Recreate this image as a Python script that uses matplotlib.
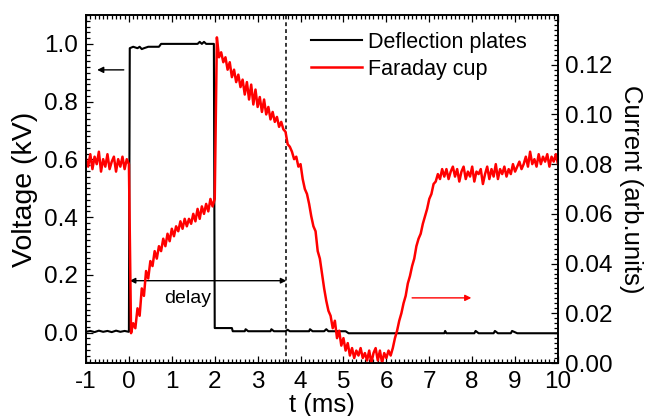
import numpy as np
import matplotlib
matplotlib.use("Agg")
import matplotlib.pyplot as plt
from matplotlib.ticker import MultipleLocator, AutoMinorLocator, FormatStrFormatter

plt.rcParams['font.family'] = ['Liberation Sans', 'DejaVu Sans']
plt.rcParams['axes.unicode_minus'] = False

# deflection plates voltage (kV), corner points of the trace
t_plates = [-1.0, -0.9, -0.8, -0.7, -0.6, -0.5, -0.4, -0.3, -0.2, -0.1, 0.0,
            0.02, 0.1, 0.2, 0.25, 0.3, 0.35, 0.45, 0.7, 0.75, 1.6, 1.65, 1.7,
            1.75, 1.8, 1.98, 2.0, 2.4, 2.42, 2.7, 2.72, 2.78, 3.3, 3.32, 3.38,
            3.65, 3.7, 3.75, 4.2, 4.22, 4.28, 4.55, 4.6, 4.65, 5.05, 5.12,
            7.35, 7.37, 7.4, 8.05, 8.08, 8.15, 8.5, 8.53, 8.6, 8.9, 8.93, 9.05,
            10.0]
v_plates = [0.003, 0.006, 0.002, 0.007, 0.003, 0.006, 0.002, 0.007, 0.003,
            0.006, 0.003,
            0.985, 0.99, 0.985, 0.99, 0.982, 0.985, 0.99, 0.99, 1.0, 1.0, 1.007,
            1.0, 1.007, 1.0, 1.0, 0.016, 0.016, 0.005, 0.005, 0.012, 0.005,
            0.005, 0.012, 0.005, 0.005, 0.01, 0.005, 0.005, 0.012, 0.005,
            0.005, 0.012, 0.005, 0.005, -0.002, -0.002, 0.006, -0.002, -0.002,
            0.006, -0.002, -0.002, 0.006, -0.002, -0.002, 0.006, -0.002, -0.002]

# faraday cup current (arb. units), sampled every 0.05 ms from -1 to 10
t_cup = np.round(np.arange(-1.0, 10.001, 0.05), 2)
i_cup = [
    0.082, 0.079, 0.084, 0.078, 0.083, 0.080, 0.085, 0.077, 0.082, 0.079,
    0.084, 0.078, 0.081, 0.083, 0.077, 0.082, 0.079, 0.083, 0.078, 0.082,
    0.080,
    0.012, 0.016, 0.014, 0.022, 0.019, 0.030, 0.027, 0.037, 0.034, 0.041,
    0.039, 0.045, 0.042, 0.047, 0.045, 0.050, 0.047, 0.052, 0.049, 0.054,
    0.051, 0.055, 0.053, 0.057, 0.054, 0.058, 0.055, 0.058, 0.056, 0.060,
    0.057, 0.062, 0.058, 0.063, 0.060, 0.064, 0.061, 0.066, 0.063,
    0.066, 0.131, 0.123, 0.125, 0.121, 0.123, 0.118, 0.121, 0.115, 0.118,
    0.113, 0.116, 0.111, 0.114, 0.108, 0.113, 0.106, 0.112, 0.104, 0.110,
    0.103, 0.107, 0.101, 0.106, 0.100, 0.103, 0.098, 0.101, 0.097, 0.099,
    0.095, 0.097, 0.094, 0.093, 0.088, 0.087, 0.085, 0.082, 0.083, 0.079,
    0.080, 0.074, 0.070, 0.068, 0.064, 0.059, 0.055, 0.053, 0.045, 0.042,
    0.036, 0.030, 0.025, 0.021, 0.019, 0.014, 0.017, 0.010, 0.013, 0.007,
    0.010, 0.005, 0.008, 0.003, 0.006, 0.002, 0.005, 0.003, 0.006, 0.002,
    0.004, 0.001, 0.005, 0.000, 0.004, 0.006, 0.001, 0.005, 0.000, 0.004,
    0.002, 0.005, 0.003, 0.006, 0.010, 0.013, 0.017, 0.020, 0.024, 0.027,
    0.032, 0.035, 0.039, 0.042, 0.047, 0.050, 0.052, 0.056, 0.059, 0.062,
    0.066, 0.068, 0.072, 0.073, 0.076, 0.074, 0.078, 0.075,
    0.078, 0.074, 0.077, 0.079, 0.075, 0.078, 0.073, 0.077, 0.079, 0.074,
    0.077, 0.075, 0.079, 0.073, 0.077, 0.076, 0.078, 0.072, 0.076, 0.079,
    0.074, 0.078, 0.075, 0.080, 0.074, 0.078, 0.076, 0.079, 0.075, 0.078,
    0.076, 0.080, 0.077,
    0.079, 0.081, 0.078, 0.080, 0.083, 0.079, 0.085, 0.080, 0.082, 0.079,
    0.084, 0.080, 0.083, 0.081, 0.084, 0.079, 0.083, 0.081, 0.084, 0.080]

t_delay = 3.67

fig = plt.figure(figsize=(6.48, 4.16), dpi=100)
ax = fig.add_axes([86 / 648, 1 - 363 / 416, 472 / 648, 348 / 416])
ax2 = ax.twinx()

l1, = ax.plot(t_plates, v_plates, color='black', lw=1.5, label='Deflection plates')
l2, = ax2.plot(t_cup, i_cup, color='red', lw=1.8, label='Faraday cup')

ax.axvline(t_delay, color='black', ls=(0, (2.5, 2)), lw=1.1)

# delay arrow and annotations
ax.annotate('', xy=(0.02, 0.18), xytext=(t_delay, 0.18),
            arrowprops=dict(arrowstyle='<|-|>', color='black', lw=1.0,
                            mutation_scale=8, shrinkA=0, shrinkB=0))
ax.text(1.37, 0.12, 'delay', fontsize=14, ha='center', va='center')
ax.annotate('', xy=(-0.74, 0.91), xytext=(-0.12, 0.91),
            arrowprops=dict(arrowstyle='-|>', color='black', lw=1.0,
                            mutation_scale=9, shrinkA=0, shrinkB=0))
ax2.annotate('', xy=(7.98, 0.0262), xytext=(6.6, 0.0262),
             arrowprops=dict(arrowstyle='-|>', color='red', lw=1.0,
                             mutation_scale=9, shrinkA=0, shrinkB=0))

ax.set_xlim(-1, 10)
ax.set_ylim(-0.105, 1.1)
ax2.set_ylim(0, 0.14)

ax.xaxis.set_major_locator(MultipleLocator(1))
ax.xaxis.set_minor_locator(AutoMinorLocator(10))
ax.yaxis.set_major_locator(MultipleLocator(0.2))
ax.yaxis.set_minor_locator(AutoMinorLocator(10))
ax.yaxis.set_major_formatter(FormatStrFormatter('%.1f'))
ax2.yaxis.set_major_locator(MultipleLocator(0.02))
ax2.yaxis.set_minor_locator(AutoMinorLocator(10))
ax2.yaxis.set_major_formatter(FormatStrFormatter('%.2f'))
ax2.set_yticks(np.arange(0, 0.121, 0.02))

ax.tick_params(which='both', direction='in', top=True, right=False,
               labelsize=17.5, width=0.9, pad=6)
ax.tick_params(which='major', length=5)
ax.tick_params(which='minor', length=3)
ax2.tick_params(which='both', direction='in', labelsize=17.5, width=0.9, pad=5)
ax2.tick_params(which='major', length=5)
ax2.tick_params(which='minor', length=3)
for a in (ax, ax2):
    for s in a.spines.values():
        s.set_linewidth(1.2)

ax.set_xlabel('t (ms)', fontsize=18.5, labelpad=0)
ax.set_ylabel('Voltage (kV)', fontsize=20.5, labelpad=4)
ax2.set_ylabel('Current (arb.units)', fontsize=18.5, rotation=270,
               labelpad=22)

ax2.legend(handles=[l1, l2], loc='upper left', bbox_to_anchor=(0.477, 0.952),
           frameon=False, fontsize=15.5, handlelength=2.37, handletextpad=0.27,
           labelspacing=0.29, borderpad=0, borderaxespad=0)

fig.savefig('out.png', dpi=100)
